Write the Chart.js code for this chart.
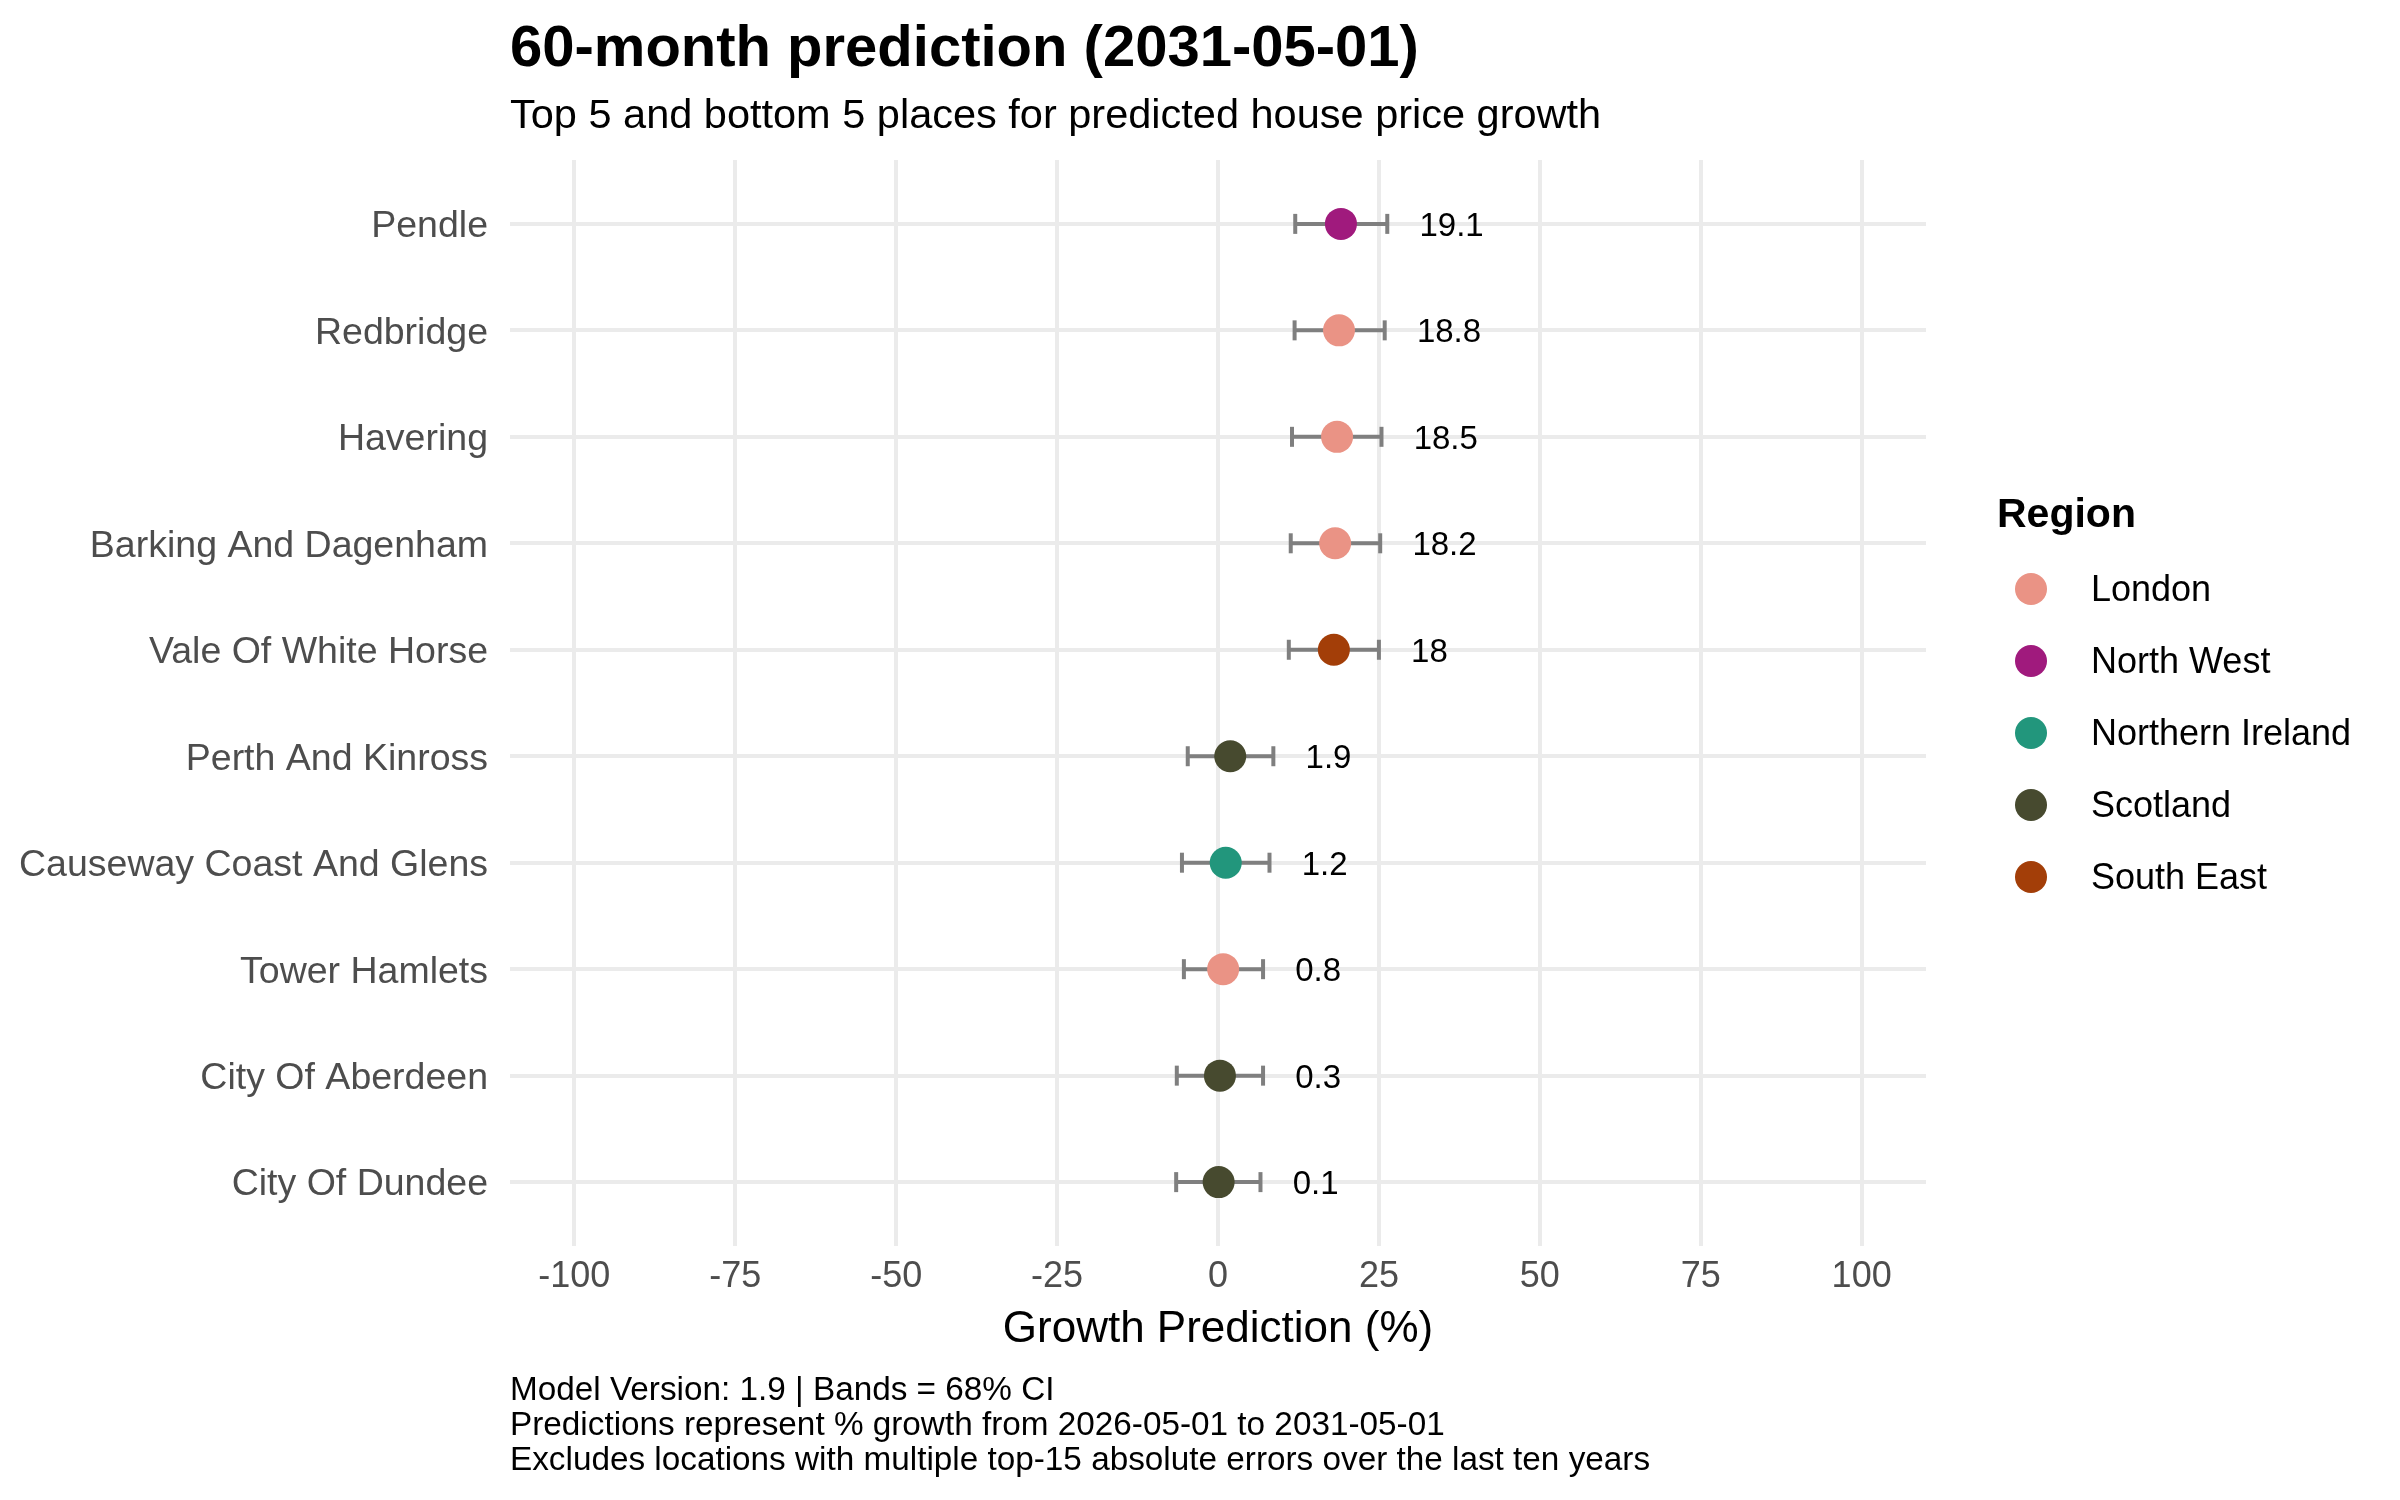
<!DOCTYPE html>
<html>
<head>
<meta charset="utf-8">
<title>60-month prediction (2031-05-01)</title>
<script src="https://cdn.jsdelivr.net/npm/chart.js@4.4.1/dist/chart.umd.min.js"></script>
<style>
  html, body { margin: 0; padding: 0; background: #ffffff; }
  canvas { display: block; }
</style>
</head>
<body>
<canvas id="predChart" width="2400" height="1500"></canvas>
<script>
// places, listed top to bottom
const places = ['Pendle', 'Redbridge', 'Havering', 'Barking And Dagenham', 'Vale Of White Horse',
  'Perth And Kinross', 'Causeway Coast And Glens', 'Tower Hamlets', 'City Of Aberdeen', 'City Of Dundee'];
const placeRegion = ['North West', 'London', 'London', 'London', 'South East',
  'Scotland', 'Northern Ireland', 'London', 'Scotland', 'Scotland'];
const growth = [19.1, 18.8, 18.5, 18.2, 18, 1.9, 1.2, 0.8, 0.3, 0.1];
const lower = [12.0, 11.9, 11.5, 11.3, 11.0, -4.7, -5.6, -5.3, -6.4, -6.5];
const upper = [26.3, 25.9, 25.4, 25.2, 25.0, 8.6, 8.0, 7.0, 7.0, 6.6];
const regions = ['London', 'North West', 'Northern Ireland', 'Scotland', 'South East'];
const xTicks = [-100, -75, -50, -25, 0, 25, 50, 75, 100];

const FONT = '"Liberation Sans", Arial, sans-serif';
const regionColour = {
  'London': '#EA9385',
  'North West': '#A01A7D',
  'Northern Ireland': '#22967C',
  'Scotland': '#474A2F',
  'South East': '#A33E08'
};
const gridColour = '#EBEBEB';
const whiskerColour = '#7F7F7F';

Chart.defaults.font.family = FONT;
Chart.defaults.color = '#000000';

// one dataset per region for the points
const pointSets = regions.map(r => ({
  label: r,
  data: places.map((p, i) => placeRegion[i] === r ? { x: growth[i], y: i } : null).filter(Boolean),
  backgroundColor: regionColour[r],
  borderWidth: 0,
  pointRadius: 16,
  pointHoverRadius: 16,
  order: 0
}));

// interval bars with end caps
const whiskerSets = places.map((p, i) => ({
  label: p + ' interval',
  data: [{ x: lower[i], y: i }, { x: upper[i], y: i }],
  showLine: true,
  borderColor: whiskerColour,
  borderWidth: 4,
  pointStyle: 'line',
  rotation: 90,
  pointRadius: 10,
  pointHoverRadius: 10,
  pointBorderColor: whiskerColour,
  pointBorderWidth: 4,
  order: 1
}));

const annotate = {
  id: 'annotate',
  afterDatasetsDraw(chart) {
    const { ctx, scales: { x, y } } = chart;
    ctx.save();
    ctx.fillStyle = '#000000';
    ctx.font = '33px ' + FONT;
    ctx.textAlign = 'left';
    ctx.textBaseline = 'middle';
    growth.forEach((g, i) => {
      ctx.fillText(String(g), x.getPixelForValue(upper[i] + 5), y.getPixelForValue(i) + 3);
    });
    ctx.restore();
  },
  afterDraw(chart) {
    const { ctx, chartArea } = chart;
    const left = chartArea.left;
    ctx.save();
    ctx.fillStyle = '#000000';
    ctx.textAlign = 'left';
    ctx.textBaseline = 'alphabetic';

    // title + subtitle
    ctx.font = 'bold 58px ' + FONT;
    ctx.fillText('60-month prediction (2031-05-01)', left, 66);
    ctx.font = '41.5px ' + FONT;
    ctx.fillText('Top 5 and bottom 5 places for predicted house price growth', left, 128);

    // caption
    ctx.font = '33.3px ' + FONT;
    ['Model Version: 1.9 | Bands = 68% CI',
     'Predictions represent % growth from 2026-05-01 to 2031-05-01',
     'Excludes locations with multiple top-15 absolute errors over the last ten years']
      .forEach((line, k) => ctx.fillText(line, left, 1400 + k * 35));

    // legend
    ctx.font = 'bold 41px ' + FONT;
    ctx.fillText('Region', 1997, 527);
    ctx.font = '36px ' + FONT;
    ctx.textBaseline = 'middle';
    chart.data.datasets.filter(d => regions.includes(d.label)).forEach((d, k) => {
      const cy = 589 + k * 72;
      ctx.beginPath();
      ctx.fillStyle = d.backgroundColor;
      ctx.arc(2031, cy, 16, 0, Math.PI * 2);
      ctx.fill();
      ctx.fillStyle = '#000000';
      ctx.fillText(d.label, 2091, cy + 2);
    });
    ctx.restore();
  }
};

new Chart(document.getElementById('predChart'), {
  type: 'scatter',
  data: { datasets: [...pointSets, ...whiskerSets] },
  options: {
    responsive: false,
    devicePixelRatio: 1,
    animation: false,
    layout: { padding: { top: 160, right: 474, bottom: 0, left: 0 } },
    plugins: {
      legend: { display: false },
      tooltip: { enabled: false }
    },
    scales: {
      x: {
        type: 'linear',
        min: -110,
        max: 110,
        afterBuildTicks: s => { s.ticks = xTicks.map(v => ({ value: v })); },
        afterFit: s => { s.height = 254; },
        grid: { color: gridColour, lineWidth: 4, drawTicks: false },
        border: { display: false },
        ticks: { color: '#4D4D4D', font: { size: 36 }, padding: 9, maxRotation: 0, autoSkip: false },
        title: {
          display: true,
          text: 'Growth Prediction (%)',
          color: '#000000',
          font: { size: 44 },
          padding: { top: 0, bottom: 144 }
        }
      },
      y: {
        type: 'linear',
        min: -0.6,
        max: 9.6,
        reverse: true,
        afterBuildTicks: s => { s.ticks = places.map((p, i) => ({ value: i })); },
        afterFit: s => { s.width = 510; },
        grid: { color: gridColour, lineWidth: 4, drawTicks: false },
        border: { display: false },
        ticks: {
          color: '#4D4D4D',
          font: { size: 37.5 },
          padding: 22,
          labelOffset: 3,
          autoSkip: false,
          callback: v => places[v]
        }
      }
    }
  },
  plugins: [annotate]
});
</script>
</body>
</html>
